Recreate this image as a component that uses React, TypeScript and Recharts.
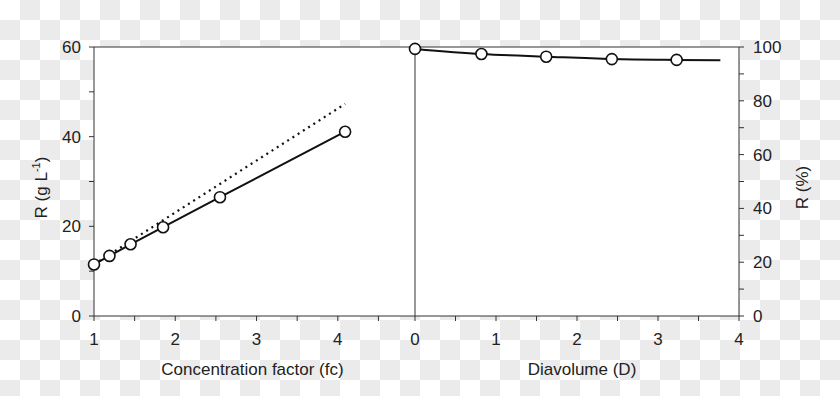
import React from 'react'
import { CartesianGrid, ComposedChart, Line, ReferenceLine, XAxis, YAxis } from 'recharts'

// left panel: retentate concentration vs concentration factor
const fcMeasured = [1, 1.19, 1.45, 1.85, 2.55, 4.09]
const concMeasured = [11.5, 13.4, 16.0, 19.8, 26.5, 41.1]
const fcIdeal = [1, 4.09]
const concIdeal = [11.5, 47.3]
const fcTicks = [1, 1.5, 2, 2.5, 3, 3.5, 4, 4.5]
const concTicks = [0, 10, 20, 30, 40, 50, 60]

// right panel: retention vs diavolume
const dMeasured = [0, 0.82, 1.62, 2.43, 3.23]
const pctMeasured = [99.3, 97.4, 96.4, 95.5, 95.2]
const dFit = [0, 0.82, 1.62, 2.43, 3.23, 3.77]
const pctFit = [99.3, 97.4, 96.4, 95.5, 95.2, 95.1]
const dTicks = [0, 0.5, 1, 1.5, 2, 2.5, 3, 3.5, 4]
const pctTicks = [0, 10, 20, 30, 40, 50, 60, 70, 80, 90, 100]

const measuredLeft = fcMeasured.map((x, i) => ({ x, y: concMeasured[i] }))
const idealLeft = fcIdeal.map((x, i) => ({ x, y: concIdeal[i] }))
const measuredRight = dMeasured.map((x, i) => ({ x, y: pctMeasured[i] }))
const fitRight = dFit.map((x, i) => ({ x, y: pctFit[i] }))

const FONT = '"Liberation Sans", Arial, sans-serif'
const AXIS = '#333'
const INK = '#111'
const CHECK = '#ebebeb'
const tickStyle = { fill: '#222', fontSize: 17, fontFamily: FONT }
const openDot = { r: 5.5, fill: '#fff', stroke: INK, strokeWidth: 1.6 }

const xTitle = (text: string, dx: number) => (p: any) => {
  const vb = p.viewBox || { x: 0, y: 316, width: 320, height: 62 }
  return (
    <text x={vb.x + vb.width / 2 + dx} y={vb.y + 59} textAnchor="middle" fontSize={17} fontFamily={FONT} fill="#222">
      {text}
    </text>
  )
}

const yTitle = (content: React.ReactNode, cx: (vb: any) => number) => (p: any) => {
  const vb = p.viewBox || { x: 0, y: 47, width: 94, height: 269 }
  const x = cx(vb)
  const y = vb.y + vb.height / 2 + 6
  return (
    <text x={x} y={y} dy="0.35em" textAnchor="middle" transform={`rotate(-90, ${x}, ${y})`} fontSize={17} fontFamily={FONT} fill="#222">
      {content}
    </text>
  )
}

function LeftPanel() {
  return (
    <ComposedChart width={415} height={396} margin={{ top: 47, right: 0, bottom: 18, left: 0 }}>
      <CartesianGrid horizontal={false} vertical={false} fill="#fff" fillOpacity={1} />
      <XAxis
        dataKey="x"
        type="number"
        domain={[1, 4.95]}
        ticks={fcTicks}
        tickFormatter={(v) => (Number.isInteger(v) ? String(v) : '')}
        interval={0}
        height={62}
        stroke={AXIS}
        tickSize={5}
        tickMargin={12}
        tick={tickStyle}
        label={xTitle('Concentration factor (fc)', -2)}
      />
      <YAxis
        type="number"
        domain={[0, 60]}
        ticks={concTicks}
        tickFormatter={(v) => (v % 20 === 0 ? String(v) : '')}
        interval={0}
        width={94}
        stroke={AXIS}
        tickSize={5}
        tickMargin={8}
        tick={tickStyle}
        label={yTitle(
          <>
            R (g L<tspan fontSize={11} dy="-7">-1</tspan>
            <tspan dy="7">)</tspan>
          </>,
          (vb) => vb.x + 41,
        )}
      />
      <ReferenceLine y={60} stroke={AXIS} />
      <Line
        data={idealLeft}
        dataKey="y"
        type="linear"
        stroke={INK}
        strokeWidth={2.2}
        strokeDasharray="2 4.2"
        dot={false}
        isAnimationActive={false}
      />
      <Line
        data={measuredLeft}
        dataKey="y"
        type="linear"
        stroke={INK}
        strokeWidth={2}
        dot={openDot}
        activeDot={false}
        isAnimationActive={false}
      />
    </ComposedChart>
  )
}

function RightPanel() {
  return (
    <ComposedChart width={435} height={396} margin={{ top: 47, right: 41, bottom: 18, left: 10 }}>
      <CartesianGrid horizontal={false} vertical={false} fill="#fff" fillOpacity={1} />
      <XAxis
        dataKey="x"
        type="number"
        domain={[0, 4]}
        ticks={dTicks}
        tickFormatter={(v) => (Number.isInteger(v) ? String(v) : '')}
        interval={0}
        height={62}
        stroke={AXIS}
        tickSize={5}
        tickMargin={12}
        tick={tickStyle}
        label={xTitle('Diavolume (D)', 5)}
      />
      <YAxis
        orientation="right"
        type="number"
        domain={[0, 100]}
        ticks={pctTicks}
        tickFormatter={(v) => (v % 20 === 0 ? String(v) : '')}
        interval={0}
        width={60}
        stroke={AXIS}
        tickSize={5}
        tickMargin={9}
        tick={tickStyle}
        label={yTitle('R (%)', (vb) => vb.x + 63)}
      />
      <ReferenceLine y={100} stroke={AXIS} />
      <ReferenceLine x={0} stroke={AXIS} />
      <Line
        data={fitRight}
        dataKey="y"
        type="monotone"
        stroke={INK}
        strokeWidth={2}
        dot={false}
        activeDot={false}
        isAnimationActive={false}
      />
      <Line
        data={measuredRight}
        dataKey="y"
        type="linear"
        stroke="none"
        dot={openDot}
        activeDot={false}
        isAnimationActive={false}
      />
    </ComposedChart>
  )
}

export default function App() {
  const sq = `linear-gradient(45deg, ${CHECK} 25%, transparent 25%, transparent 75%, ${CHECK} 75%)`
  return (
    <div
      style={{
        position: 'absolute',
        left: 0,
        top: 0,
        width: 840,
        height: 396,
        overflow: 'hidden',
        backgroundColor: '#fff',
        backgroundImage: `${sq}, ${sq}`,
        backgroundSize: '40px 40px',
        backgroundPosition: '0 0, 20px 20px',
      }}
    >
      <div style={{ position: 'absolute', left: 0, top: 0 }}>
        <LeftPanel />
      </div>
      <div style={{ position: 'absolute', left: 405, top: 0 }}>
        <RightPanel />
      </div>
    </div>
  )
}
